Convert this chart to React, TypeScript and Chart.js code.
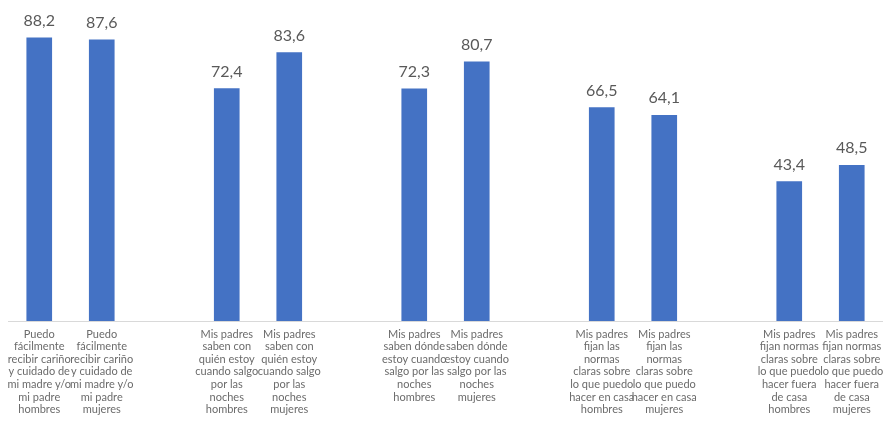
import React, { useEffect, useRef } from "react";
import { Chart, registerables } from "chart.js";

Chart.register(...registerables);

const categories: string[][] = [
  ["Puedo", "fácilmente", "recibir cariño", "y cuidado de", "mi madre y/o", "mi padre", "hombres"],
  ["Puedo", "fácilmente", "recibir cariño", "y cuidado de", "mi madre y/o", "mi padre", "mujeres"],
  [""],
  ["Mis padres", "saben con", "quién estoy", "cuando salgo", "por las", "noches", "hombres"],
  ["Mis padres", "saben con", "quién estoy", "cuando salgo", "por las", "noches", "mujeres"],
  [""],
  ["Mis padres", "saben dónde", "estoy cuando", "salgo por las", "noches", "hombres"],
  ["Mis padres", "saben dónde", "estoy cuando", "salgo por las", "noches", "mujeres"],
  [""],
  ["Mis padres", "fijan las", "normas", "claras sobre", "lo que puedo", "hacer en casa", "hombres"],
  ["Mis padres", "fijan las", "normas", "claras sobre", "lo que puedo", "hacer en casa", "mujeres"],
  [""],
  ["Mis padres", "fijan normas", "claras sobre", "lo que puedo", "hacer fuera", "de casa", "hombres"],
  ["Mis padres", "fijan normas", "claras sobre", "lo que puedo", "hacer fuera", "de casa", "mujeres"],
];

const values: (number | null)[] = [88.2, 87.6, null, 72.4, 83.6, null, 72.3, 80.7, null, 66.5, 64.1, null, 43.4, 48.5];

const valueLabelPlugin = {
  id: "valueLabels",
  afterDatasetsDraw(chart: any) {
    const ctx = chart.ctx;
    const meta = chart.getDatasetMeta(0);
    ctx.save();
    ctx.font = "16px Lato";
    ctx.fillStyle = "#595959";
    ctx.textAlign = "center";
    ctx.textBaseline = "bottom";
    meta.data.forEach((el: any, i: number) => {
      const v = values[i];
      if (v == null) return;
      ctx.fillText(v.toFixed(1).replace(".", ","), el.x, el.y - 9);
    });
    ctx.restore();
  },
};

export default function App() {
  const ref = useRef<HTMLCanvasElement>(null);
  useEffect(() => {
    const chart = new Chart(ref.current!, {
      type: "bar",
      data: {
        labels: categories,
        datasets: [
          {
            data: values,
            backgroundColor: "#4472C4",
            barThickness: 25,
          },
        ],
      },
      options: {
        animation: false,
        responsive: true,
        maintainAspectRatio: false,
        layout: { padding: { left: 8, right: 0, top: 0, bottom: 0 } },
        plugins: { legend: { display: false }, tooltip: { enabled: false } },
        scales: {
          y: { display: false, min: 0, max: 100 },
          x: {
            grid: { display: false, drawTicks: false },
            border: { display: true, color: "#d9d9d9", width: 1 },
            ticks: {
              autoSkip: false,
              maxRotation: 0,
              minRotation: 0,
              padding: 7,
              color: "#6b6b6b",
              font: { family: "Lato", size: 11, lineHeight: 1.14 },
            },
            afterFit(scale: any) {
              scale.height = 105;
              scale.paddingLeft = 0;
              scale.paddingRight = 0;
            },
          },
        },
      },
      plugins: [valueLabelPlugin],
    });
    return () => chart.destroy();
  }, []);
  return (
    <div style={{ position: "fixed", left: 0, top: 0, width: 883, height: 426, background: "#fff" }}>
      <canvas ref={ref} />
    </div>
  );
}
